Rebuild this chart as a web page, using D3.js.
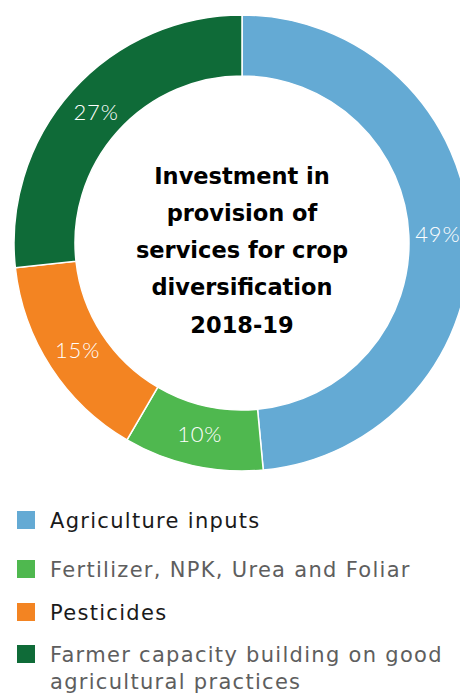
<!DOCTYPE html>
<html>
<head>
<meta charset="utf-8">
<script src="https://cdn.jsdelivr.net/npm/d3@7"></script>
<style>
  html, body { margin: 0; padding: 0; background: #fff; }
  svg { display: block; }
</style>
</head>
<body>
<svg id="chart" width="460" height="693"></svg>
<script>
// Shares of investment, 2018-19 (percent)
const categories = [
  "Agriculture inputs",
  "Fertilizer, NPK, Urea and Foliar",
  "Pesticides",
  "Farmer capacity building on good agricultural practices"
];
const values = [49, 10, 15, 27];
const colors = ["#64aad4", "#4fb84f", "#f38422", "#0f6b38"];
const legendLines = [
  ["Agriculture inputs"],
  ["Fertilizer, NPK, Urea and Foliar"],
  ["Pesticides"],
  ["Farmer capacity building on good", "agricultural practices"]
];
const legendTextColors = ["#1a1a1a", "#5e5e5e", "#1a1a1a", "#5e5e5e"];
const titleLines = ["Investment in", "provision of", "services for crop", "diversification", "2018-19"];

const svg = d3.select("#chart");
const cx = 242, cy = 243, outerR = 228, innerR = 167;

const data = categories.map((c, i) => ({ name: c, value: values[i], color: colors[i] }));

const pie = d3.pie().sort(null).value(d => d.value);
const arc = d3.arc().innerRadius(innerR).outerRadius(outerR);
const labelArc = d3.arc().innerRadius(196).outerRadius(196);

const g = svg.append("g").attr("transform", `translate(${cx},${cy})`);
const arcs = pie(data);

g.selectAll("path.slice")
  .data(arcs)
  .join("path")
  .attr("class", "slice")
  .attr("d", arc)
  .attr("fill", d => d.data.color)
  .attr("stroke", "#fff")
  .attr("stroke-width", 1.5);

g.selectAll("text.pct")
  .data(arcs)
  .join("text")
  .attr("class", "pct")
  .attr("transform", d => `translate(${labelArc.centroid(d)})`)
  .attr("text-anchor", "middle")
  .attr("dy", "0.36em")
  .attr("fill", "#fff")
  .style("font-family", "Lato, 'Open Sans', sans-serif")
  .style("font-weight", 300)
  .style("font-size", "22px")
  .style("letter-spacing", "0.8px")
  .text(d => d.data.value + "%");

// Title in the hole of the donut
const title = g.append("text")
  .attr("text-anchor", "middle")
  .style("font-family", "'DejaVu Sans', sans-serif")
  .style("font-weight", 700)
  .style("font-size", "22.5px")
  .attr("fill", "#000");
titleLines.forEach((t, i) => {
  title.append("tspan")
    .attr("x", 0)
    .attr("y", 183.5 - cy + i * 37.3)
    .text(t);
});

// Legend
const legendY = [511, 560, 603, 645];
const legend = svg.append("g");
data.forEach((d, i) => {
  const row = legend.append("g").attr("transform", `translate(17,${legendY[i]})`);
  row.append("rect").attr("width", 18).attr("height", 18).attr("fill", d.color);
  const txt = row.append("text")
    .attr("fill", legendTextColors[i])
    .style("font-family", "'DejaVu Sans', sans-serif")
    .style("font-size", "21px")
    .style("letter-spacing", "1.3px");
  legendLines[i].forEach((line, j) => {
    txt.append("tspan").attr("x", 33).attr("y", 17 + j * 27).text(line);
  });
});
</script>
</body>
</html>
